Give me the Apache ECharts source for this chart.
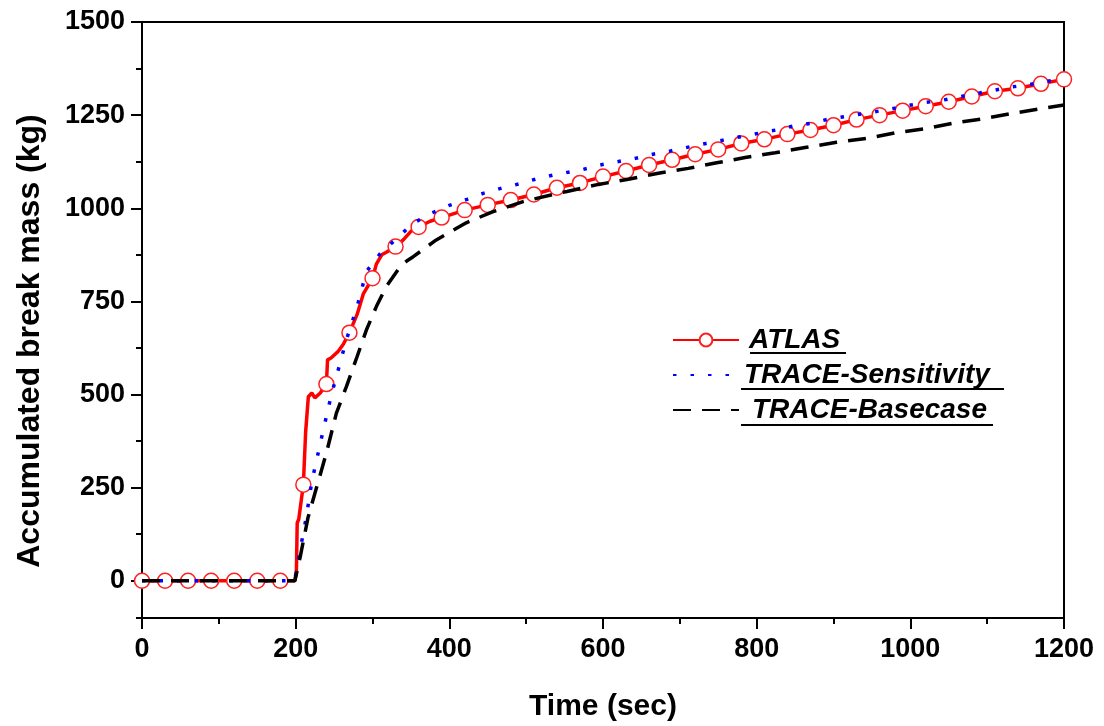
<!DOCTYPE html>
<html>
<head>
<meta charset="utf-8">
<script src="https://cdn.jsdelivr.net/npm/echarts@6/dist/echarts.min.js"></script>
<style>
html,body{margin:0;padding:0;background:#fff;}
#chart{width:1104px;height:726px;}
</style>
</head>
<body>
<div id="chart"></div>
<script>
// ---- Data ----
const seriesNames = ['ATLAS', 'TRACE-Sensitivity', 'TRACE-Basecase'];

const atlasT = [0,30,60,90,120,150,180,199,201,202,204,210,213,216.5,221,225,232,240,241.5,246,255,262,270,280,288,300,305,312,318,330,340,350,360,375,390,420,450,480,510,540,570,600,630,660,690,720,750,780,810,840,870,900,930,960,990,1020,1050,1080,1110,1140,1170,1200];
const atlasV = [0,0,0,0,0,0,0,0,30,155,165,258,400,494,504,491,504,528,593,598,615,635,666,715,770,812,850,875,882,897,915,938,950,965,975,995,1009,1022,1037,1055,1068,1085,1100,1116,1130,1145,1158,1174,1185,1199,1210,1223,1238,1250,1262,1274,1286,1300,1314,1322,1334,1346];

const sensT = [0,199,201,214,221,236,247,253,266,280,292,310,331,353,377,399,423,444,468,490,512,535,574,596,642,665,688,711,734,757,779,802,825,848,870,893,948,971,993,1016,1039,1061,1084,1107,1130,1152,1175,1200];
const sensV = [0,0,29,173,266,405,504,548,647,736,830,878,918,960,987,1007,1024,1040,1054,1065,1078,1089,1104,1116,1134,1145,1154,1164,1174,1183,1192,1201,1210,1221,1228,1239,1257,1265,1274,1283,1289,1298,1307,1316,1325,1331,1340,1348];

const baseT = [0,199,200,206,216,227,240,253,266,280,292,305,318,336,345,353,383,422,457,496,535,553,594,633,672,711,748,785,824,863,904,945,982,1021,1060,1097,1134,1178,1200];
const baseV = [0,0,3,65,169,249,343,450,521,602,673,736,790,843,859,870,915,961,991,1018,1037,1045,1064,1078,1094,1107,1122,1136,1149,1163,1177,1188,1203,1214,1230,1241,1255,1270,1277];

const markerStep = 30; // ATLAS symbols every 30 s
const yMajorTicks = [0,250,500,750,1000,1250,1500];
const yMinorTicks = [-100,125,375,625,875,1125,1375];
const xMin = 0, xMax = 1200, xInterval = 200;
const yMin = -100, yMax = 1500;

// ---- Build ----
const FONT = '"Liberation Sans", Arial, Helvetica, sans-serif';
const atlasData = atlasT.map((t, i) => {
  const item = { value: [t, atlasV[i]] };
  if (t % markerStep !== 0) item.symbol = 'none';
  return item;
});
const sensData = sensT.map((t, i) => [t, sensV[i]]);
const baseData = baseT.map((t, i) => [t, baseV[i]]);
const plain = v => String(v);

const chart = echarts.init(document.getElementById('chart'), null, { renderer: 'canvas' });

const option = {
  backgroundColor: '#ffffff',
  animation: false,
  grid: {
    left: 142, right: 40, top: 22, bottom: 108,
    outerBoundsMode: 'none', containLabel: false,
    show: true, borderColor: '#000', borderWidth: 2, backgroundColor: 'transparent'
  },
  xAxis: {
    type: 'value', min: xMin, max: xMax, interval: xInterval,
    name: 'Time (sec)', nameLocation: 'middle', nameGap: 74,
    nameTextStyle: { fontFamily: FONT, fontSize: 30, fontWeight: 'bold', color: '#000' },
    axisLine: { show: true, onZero: false, lineStyle: { color: '#000', width: 2 } },
    axisTick: { show: true, inside: false, length: 11, lineStyle: { color: '#000', width: 2 } },
    minorTick: { show: true, splitNumber: 2, length: 6, lineStyle: { color: '#000', width: 2 } },
    axisLabel: { fontFamily: FONT, fontSize: 27, fontWeight: 'bold', color: '#000', margin: 18, formatter: plain },
    splitLine: { show: false }
  },
  yAxis: [
    {
      type: 'value', min: yMin, max: yMax, position: 'left',
      axisLine: { show: true, onZero: false, lineStyle: { color: '#000', width: 2 } },
      axisTick: { show: true, inside: false, length: 11, customValues: yMajorTicks, lineStyle: { color: '#000', width: 2 } },
      axisLabel: { fontFamily: FONT, fontSize: 27, fontWeight: 'bold', color: '#000', margin: 17, customValues: yMajorTicks, formatter: plain },
      splitLine: { show: false }
    },
    {
      type: 'value', min: yMin, max: yMax, position: 'left',
      axisLine: { show: false },
      axisTick: { show: true, inside: false, length: 6, customValues: yMinorTicks, lineStyle: { color: '#000', width: 2 } },
      axisLabel: { show: false },
      splitLine: { show: false }
    }
  ],
  legend: {
    orient: 'vertical', left: 672, top: 325, padding: 0,
    itemWidth: 66, itemHeight: 16, itemGap: 5,
    textStyle: { fontFamily: FONT, fontSize: 28, fontWeight: 'bold', fontStyle: 'italic', color: '#000', lineHeight: 30 },
    data: [
      { name: seriesNames[0], textStyle: { padding: [0, 0, 0, 5] } },
      { name: seriesNames[1], textStyle: { padding: [0, 0, 0, 0] }, itemStyle: { opacity: 0 } },
      { name: seriesNames[2], textStyle: { padding: [0, 0, 0, 8] }, itemStyle: { opacity: 0 } }
    ]
  },
  graphic: [
    { type: 'text', x: 30, y: 341, rotation: Math.PI / 2,
      style: { text: 'Accumulated break mass (kg)', font: 'bold 32px ' + FONT, fill: '#000', textAlign: 'center', textVerticalAlign: 'middle' } },
    { type: 'rect', shape: { x: 750, y: 352, width: 96, height: 2 }, style: { fill: '#000' } },
    { type: 'rect', shape: { x: 741, y: 388, width: 263, height: 2 }, style: { fill: '#000' } },
    { type: 'rect', shape: { x: 741, y: 424, width: 252, height: 2 }, style: { fill: '#000' } }
  ],
  series: [
    {
      name: seriesNames[0], type: 'line', data: atlasData,
      symbol: 'circle', symbolSize: 15, showAllSymbol: true,
      lineStyle: { color: '#ff0000', width: 3.5 },
      itemStyle: { color: '#ffffff', borderColor: '#ff2020', borderWidth: 1.5 },
      z: 2
    },
    {
      name: seriesNames[1], type: 'line', data: sensData, symbol: 'none',
      lineStyle: { color: '#0000ff', width: 3.5, type: [3.5, 14], cap: 'butt' },
      itemStyle: { color: '#0000ff' },
      z: 3
    },
    {
      name: seriesNames[2], type: 'line', data: baseData, symbol: 'none',
      lineStyle: { color: '#000000', width: 3.5, type: [18, 11], cap: 'butt' },
      itemStyle: { color: '#000000' },
      z: 4
    }
  ]
};
chart.setOption(option);
</script>
</body>
</html>
